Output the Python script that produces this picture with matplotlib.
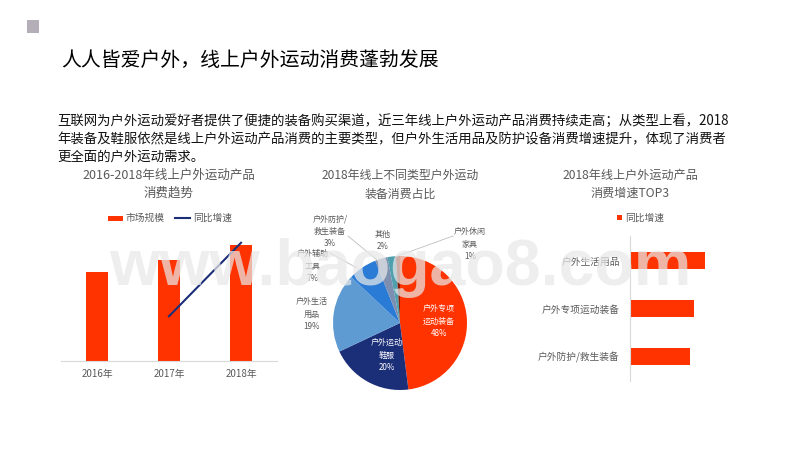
import matplotlib
matplotlib.use('Agg')
import matplotlib.pyplot as plt
from matplotlib.patches import Rectangle

plt.rcParams['font.family'] = ['Noto Sans CJK SC', 'DejaVu Sans']

W, H = 800, 450
RED = '#ff3300'
NAVY = '#1b2e78'
GREY = '#595959'
AXIS = '#d9d9d9'

years = ['2016年', '2017年', '2018年']
market = [89, 101, 116]
growth_years = [1, 2]
growth = [14, 37]

pie_labels = ['户外专项\n运动装备\n48%', '户外运动\n鞋服\n20%', '户外生活\n用品\n19%',
              '户外辅助\n工具\n7%', '户外防护/\n救生装备\n3%', '其他\n2%', '户外休闲\n家具\n1%']
pie_values = [48, 20, 19, 7, 3, 2, 1]
pie_colors = [RED, NAVY, '#5f9bd3', '#2a7bd6', '#7d8fb0', '#4f9fae', '#8a1c05']

top3 = ['户外防护/救生装备', '户外专项运动装备', '户外生活用品']
top3_values = [60, 64, 75]

body_lines = ['互联网为户外运动爱好者提供了便捷的装备购买渠道，近三年线上户外运动产品消费持续走高；从类型上看，2018',
              '年装备及鞋服依然是线上户外运动产品消费的主要类型，但户外生活用品及防护设备消费增速提升，体现了消费者',
              '更全面的户外运动需求。']


def px_axes(left, top, right, bottom):
    return fig.add_axes([left / W, 1 - bottom / H, (right - left) / W, (bottom - top) / H])


def txt(x, y, s, **kw):
    kw.setdefault('ha', 'center')
    kw.setdefault('va', 'center')
    return fig.text(x / W, 1 - y / H, s, **kw)


fig = plt.figure(figsize=(8, 4.5), dpi=100, facecolor='white')

fig.patches.append(Rectangle((27 / W, 1 - 33 / H), 12 / W, 13 / H, transform=fig.transFigure,
                             color='#b3aeb8', lw=0))
txt(61, 60, '人人皆爱户外，线上户外运动消费蓬勃发展', ha='left', fontsize=14.3, color='black')
for i, line in enumerate(body_lines):
    txt(57, 121 + i * 18, line, ha='left', fontsize=9.65, color='#111111')

# chart titles
txt(169, 175, '2016-2018年线上户外运动产品', fontsize=9, color=GREY)
txt(169, 193, '消费趋势', fontsize=9, color=GREY)
txt(400, 175, '2018年线上不同类型户外运动', fontsize=8.6, color=GREY)
txt(400, 194, '装备消费占比', fontsize=8.6, color=GREY)
txt(630, 175, '2018年线上户外运动产品', fontsize=8.7, color=GREY)
txt(630, 193, '消费增速TOP3', fontsize=8.7, color=GREY)

# bar + line
ax = px_axes(61, 230, 277, 361)
ax.bar(range(3), market, width=0.31, color=RED)
ax.set_xlim(-0.5, 2.5)
ax.set_ylim(0, 131)
ax.set_xticks(range(3), years, fontsize=7, color=GREY)
ax.tick_params(length=0, pad=6)
ax.set_yticks([])
for s in ['top', 'left', 'right']:
    ax.spines[s].set_visible(False)
ax.spines['bottom'].set_color(AXIS)
ax2 = ax.twinx()
ax2.plot(growth_years, growth, color=NAVY, lw=1.5)
ax2.set_ylim(0, 41)
ax2.set_yticks([])
ax2.axis('off')

fig.patches.append(Rectangle((108 / W, 1 - 221 / H), 15 / W, 5 / H, transform=fig.transFigure, color=RED, lw=0))
txt(125, 218, '市场规模', ha='left', fontsize=7, color=GREY)
fig.add_artist(plt.Line2D([175 / W, 190 / W], [1 - 218 / H, 1 - 218 / H], color=NAVY, lw=1.5))
txt(193, 218, '同比增速', ha='left', fontsize=7, color=GREY)

# pie
ax = px_axes(333, 256, 467, 390)
ax.pie(pie_values, colors=pie_colors, startangle=90, counterclock=False, radius=1)
ax.set_xlim(-1, 1)
ax.set_ylim(-1, 1)
pie_label_pos = [(439, 321), (387, 355), (312, 314), (313, 266), (330, 231), (383, 240), (470, 244)]
for lab, (x, y), i in zip(pie_labels, pie_label_pos, range(7)):
    txt(x, y, lab, fontsize=5.8, color='white' if i < 2 else GREY, linespacing=1.45)
for xs, ys in [([348, 377], [236, 260]), ([330, 357], [253, 268]), ([453, 395], [236, 257])]:
    fig.add_artist(plt.Line2D([x / W for x in xs], [1 - y / H for y in ys], color='#bfbfbf', lw=0.6))

# horizontal bars
ax = px_axes(629.5, 236, 770, 381)
ax.barh(range(3), top3_values, height=0.36, color=RED)
ax.set_xlim(0, 140.5)
ax.set_ylim(-0.51, 2.51)
ax.set_yticks(range(3), top3, fontsize=7, color=GREY)
ax.tick_params(length=0, pad=7)
ax.set_xticks([])
for s in ['top', 'right', 'bottom']:
    ax.spines[s].set_visible(False)
ax.spines['left'].set_color(AXIS)

fig.patches.append(Rectangle((617 / W, 1 - 220 / H), 5 / W, 5 / H, transform=fig.transFigure, color=RED, lw=0))
txt(625, 218, '同比增速', ha='left', fontsize=7, color=GREY)

# watermark
txt(400, 285, 'www.baogao8.com', va='baseline', fontsize=46.5, fontweight='bold', family='Liberation Sans',
    color='#e8e8e8', alpha=0.72, zorder=20)

fig.savefig('out.png', dpi=100)
